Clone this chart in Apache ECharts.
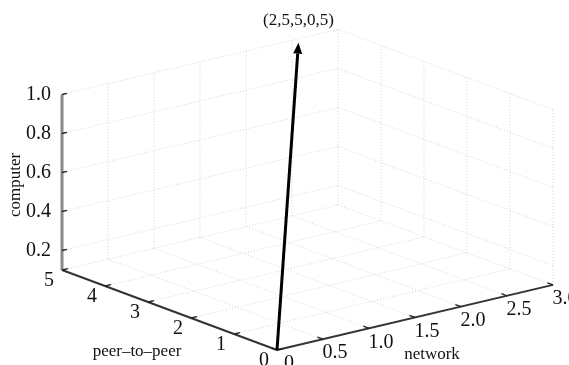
<!DOCTYPE html>
<html>
<head>
<meta charset="utf-8">
<script src="https://cdn.jsdelivr.net/npm/echarts@6/dist/echarts.min.js"></script>
<style>
html, body { margin: 0; padding: 0; background: #fff; }
#chart { width: 569px; height: 365px; }
</style>
</head>
<body>
<div id="chart"></div>
<script>
// axis ticks (network = x, peer-to-peer = y, computer = z)
const networkTicks = [0, 0.5, 1.0, 1.5, 2.0, 2.5, 3.0];
const networkLabels = ['0', '0.5', '1.0', '1.5', '2.0', '2.5', '3.0'];
const peerTicks = [0, 1, 2, 3, 4, 5];
const peerLabels = ['0', '1', '2', '3', '4', '5'];
const computerTicks = [0.2, 0.4, 0.6, 0.8, 1.0];
const computerLabels = ['0.2', '0.4', '0.6', '0.8', '1.0'];

// the vector
const vectorFrom = [0, 0, 0.1];
const vectorTo = [2.5, 4.85, 1.0];
const vectorLabel = '(2,5,5,0,5)';

const xMin = 0, xMax = 3, yMin = 0, yMax = 5, zMin = 0.1, zMax = 1.0;

// fixed 3d view, projected onto a plain 2d plane
const view = { ox: 277, oy: 350, ex: [92, -21.7], ey: [-43, -16], ez: 195 };
function proj(p) {
  return [
    view.ox + (p[0] - xMin) * view.ex[0] + (p[1] - yMin) * view.ey[0],
    view.oy + (p[0] - xMin) * view.ex[1] + (p[1] - yMin) * view.ey[1] - (p[2] - zMin) * view.ez
  ];
}

const FONT = '"Liberation Serif", "DejaVu Serif", serif';

// grid segments on back walls and floor
const gridSegs = [];
computerTicks.forEach(z => {
  gridSegs.push([xMin, yMax, z, xMax, yMax, z]);
  gridSegs.push([xMax, yMin, z, xMax, yMax, z]);
});
networkTicks.filter(x => x > xMin).forEach(x => {
  gridSegs.push([x, yMax, zMin, x, yMax, zMax]);
  gridSegs.push([x, yMin, zMin, x, yMax, zMin]);
});
peerTicks.filter(y => y < yMax).forEach(y => {
  gridSegs.push([xMax, y, zMin, xMax, y, zMax]);
});
peerTicks.filter(y => y > yMin).forEach(y => {
  gridSegs.push([xMin, y, zMin, xMax, y, zMin]);
});

// tick marks
const tickSegs = [];
networkTicks.forEach(x => tickSegs.push([x, yMin, zMin, x, yMin + 0.13, zMin]));
peerTicks.forEach(y => tickSegs.push([xMin, y, zMin, xMin + 0.065, y, zMin]));
computerTicks.forEach(z => tickSegs.push([xMin, yMax, z, xMin + 0.055, yMax, z]));

function segSeries(segs, style) {
  return {
    type: 'custom',
    coordinateSystem: 'cartesian2d',
    clip: false,
    silent: true,
    data: segs,
    renderItem: function (params, api) {
      const a = api.coord(proj([api.value(0), api.value(1), api.value(2)]));
      const b = api.coord(proj([api.value(3), api.value(4), api.value(5)]));
      return {
        type: 'line',
        shape: { x1: a[0], y1: a[1], x2: b[0], y2: b[1] },
        style: style
      };
    }
  };
}

function labelSeries(points, labels, dx, dy, size, align) {
  return {
    type: 'custom',
    coordinateSystem: 'cartesian2d',
    clip: false,
    silent: true,
    data: points,
    renderItem: function (params, api) {
      const a = api.coord(proj([api.value(0), api.value(1), api.value(2)]));
      return {
        type: 'text',
        x: a[0] + dx,
        y: a[1] + dy,
        style: {
          text: labels[params.dataIndex],
          fill: '#111',
          fontSize: size,
          fontFamily: FONT,
          align: align || 'center',
          verticalAlign: 'middle'
        }
      };
    }
  };
}

const axisLines = [
  [xMin, yMin, zMin, xMax, yMin, zMin],
  [xMin, yMin, zMin, xMin, yMax, zMin]
];
const zAxisLine = [[xMin, yMax, zMin, xMin, yMax, zMax]];

const chart = echarts.init(document.getElementById('chart'));
chart.setOption({
  animation: false,
  grid: { left: 0, right: 0, top: 0, bottom: 0 },
  xAxis: { type: 'value', min: 0, max: 569, show: false },
  yAxis: { type: 'value', min: 0, max: 365, inverse: true, show: false },
  series: [
    segSeries(gridSegs, { stroke: '#d4d4d4', lineWidth: 1, lineDash: [1, 2] }),
    segSeries(zAxisLine, { stroke: '#8a8a8a', lineWidth: 3 }),
    segSeries(axisLines, { stroke: '#333', lineWidth: 2 }),
    segSeries(tickSegs, { stroke: '#222', lineWidth: 1.3 }),
    labelSeries(networkTicks.map(x => [x, yMin, zMin]), networkLabels, 12, 14, 20),
    labelSeries(peerTicks.map(y => [xMin, y, zMin]), peerLabels, -13, 11, 20),
    labelSeries(computerTicks.map(z => [xMin, yMax, z]), computerLabels, -11, 0, 20, 'right'),
    {
      type: 'custom',
      coordinateSystem: 'cartesian2d',
      clip: false,
      silent: true,
      data: [vectorFrom.concat(vectorTo)],
      renderItem: function (params, api) {
        const a = api.coord(proj([api.value(0), api.value(1), api.value(2)]));
        const b = api.coord(proj([api.value(3), api.value(4), api.value(5)]));
        const len = Math.hypot(b[0] - a[0], b[1] - a[1]);
        const ux = (b[0] - a[0]) / len, uy = (b[1] - a[1]) / len;
        const hl = 11, hw = 4.5;
        const bx = b[0] - ux * hl, by = b[1] - uy * hl;
        return {
          type: 'group',
          children: [
            {
              type: 'line',
              shape: { x1: a[0], y1: a[1], x2: bx, y2: by },
              style: { stroke: '#000', lineWidth: 3 }
            },
            {
              type: 'polygon',
              shape: { points: [[b[0], b[1]], [bx - uy * hw, by + ux * hw], [bx + uy * hw, by - ux * hw]] },
              style: { fill: '#000' }
            },
            {
              type: 'text',
              x: b[0],
              y: b[1] - 22,
              style: { text: vectorLabel, fill: '#111', fontSize: 17, fontFamily: FONT, align: 'center', verticalAlign: 'middle' }
            }
          ]
        };
      }
    }
  ],
  graphic: [
    { type: 'text', x: 432, y: 355, style: { text: 'network', fill: '#111', fontSize: 17, fontFamily: FONT, align: 'center', verticalAlign: 'middle' } },
    { type: 'text', x: 137, y: 352, style: { text: 'peer–to–peer', fill: '#111', fontSize: 17, fontFamily: FONT, align: 'center', verticalAlign: 'middle' } },
    { type: 'text', x: 16, y: 185, rotation: Math.PI / 2, style: { text: 'computer', fill: '#111', fontSize: 17, fontFamily: FONT, align: 'center', verticalAlign: 'middle' } }
  ]
});
</script>
</body>
</html>
